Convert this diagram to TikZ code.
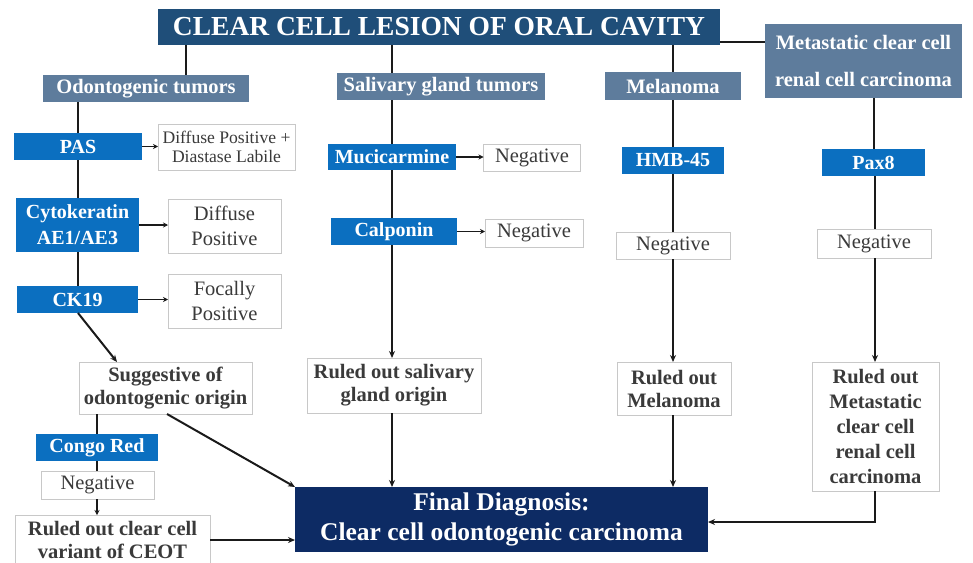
\documentclass[tikz,border=0pt]{standalone}
\usepackage{fontspec}
\setmainfont{Liberation Serif}
\usetikzlibrary{arrows.meta,calc}
\definecolor{titleblue}{HTML}{1F4E79}
\definecolor{slate}{HTML}{5E7C9C}
\definecolor{testblue}{HTML}{0B6FC0}
\definecolor{navy}{HTML}{0D2B64}
\definecolor{txtgray}{HTML}{3A3A3A}
\definecolor{bordergray}{HTML}{C8C8C8}
\definecolor{linecol}{HTML}{1A1A1A}
\tikzset{
  box/.style={inner sep=0pt, align=center, outer sep=0pt},
  titlebox/.style={box, fill=titleblue, text=white, font=\fontsize{27.5}{30}\selectfont\bfseries},
  catbox/.style={box, fill=slate, text=white, font=\fontsize{20.5}{37}\selectfont\bfseries},
  testbox/.style={box, fill=testblue, text=white, font=\fontsize{20}{26}\selectfont\bfseries},
  resbox/.style={box, draw=bordergray, line width=1pt, fill=white, text=txtgray, font=\fontsize{20.5}{25}\selectfont},
  smallres/.style={box, draw=bordergray, line width=1pt, fill=white, text=txtgray, font=\fontsize{17.6}{19}\selectfont},
  conclbox/.style={box, draw=bordergray, line width=1pt, fill=white, text=txtgray, font=\fontsize{20.5}{23}\selectfont\bfseries},
  finalbox/.style={box, fill=navy, text=white, font=\fontsize{25.5}{30}\selectfont\bfseries},
  conn/.style={draw=linecol, line width=2pt},
  arr/.style={conn, -{Stealth[length=7pt,width=6pt]}},
  sarr/.style={draw=linecol, line width=1.5pt, -{Stealth[length=5pt,width=5pt]}},
}
\begin{document}
\begin{tikzpicture}[x=1pt,y=-1pt]
\useasboundingbox[fill=white] (0,0) rectangle (973,562);
% top level
\node[titlebox, minimum width=562pt, minimum height=36pt] (title) at (439,27) {CLEAR CELL LESION OF ORAL CAVITY};
\node[catbox, minimum width=206pt, minimum height=27pt] (odont) at (146,88.5) {Odontogenic tumors};
\node[catbox, minimum width=208pt, minimum height=27pt] (saliv) at (441,86.5) {Salivary gland tumors};
\node[catbox, minimum width=136pt, minimum height=28pt] (melan) at (673,86) {Melanoma};
\node[catbox, minimum width=197pt, minimum height=74pt] (metas) at (863.5,61) {Metastatic clear cell\\renal cell carcinoma};
% odontogenic column
\node[testbox, minimum width=128pt, minimum height=27pt] (pas) at (78,146.5) {PAS};
\node[smallres, minimum width=137pt, minimum height=46pt] (pasres) at (226.5,147) {Diffuse Positive +\\Diastase Labile};
\node[testbox, minimum width=123pt, minimum height=54pt] (cyto) at (77.5,225) {Cytokeratin\\AE1/AE3};
\node[resbox, minimum width=113pt, minimum height=54pt] (cytores) at (224.5,226) {Diffuse\\Positive};
\node[testbox, minimum width=121pt, minimum height=27pt] (ck) at (77.5,299.5) {CK19};
\node[resbox, minimum width=113pt, minimum height=54pt] (ckres) at (224.5,301) {Focally\\Positive};
\node[conclbox, minimum width=173pt, minimum height=52pt] (sugg) at (165.5,388) {Suggestive of\\odontogenic origin};
\node[testbox, minimum width=122pt, minimum height=27pt] (congo) at (97,447.5) {Congo Red};
\node[resbox, minimum width=113pt, minimum height=28pt] (congores) at (97.5,485) {Negative};
\node[conclbox, minimum width=195pt, minimum height=50pt, anchor=north] (ceot) at (112.5,515) {Ruled out clear cell\\variant of CEOT};
% salivary column
\node[testbox, minimum width=128pt, minimum height=26pt] (muci) at (392,157) {Mucicarmine};
\node[resbox, minimum width=97pt, minimum height=27pt] (mucires) at (532,157.5) {Negative};
\node[testbox, minimum width=126pt, minimum height=27pt] (calp) at (394,231.5) {Calponin};
\node[resbox, minimum width=98pt, minimum height=28pt] (calpres) at (534,233) {Negative};
\node[conclbox, minimum width=174pt, minimum height=55pt] (rsal) at (394,385.5) {Ruled out salivary\\gland origin};
% melanoma column
\node[testbox, minimum width=102pt, minimum height=27pt] (hmb) at (673,160.5) {HMB-45};
\node[resbox, minimum width=114pt, minimum height=27pt] (hmbres) at (673,245.5) {Negative};
\node[conclbox, minimum width=114pt, minimum height=53pt] (rmel) at (674,388.5) {Ruled out\\Melanoma};
% metastatic column
\node[testbox, minimum width=103pt, minimum height=27pt] (pax) at (873.5,162.5) {Pax8};
\node[resbox, minimum width=114pt, minimum height=29pt] (paxres) at (874,243.5) {Negative};
\node[conclbox, minimum width=127pt, minimum height=129pt, font=\fontsize{20.5}{25}\selectfont\bfseries] (rmet) at (875.5,426.5) {Ruled out\\Metastatic\\clear cell\\renal cell\\carcinoma};
% final
\node[finalbox, minimum width=413pt, minimum height=65pt] (final) at (501.5,519.5) {Final Diagnosis:\\Clear cell odontogenic carcinoma};
% connectors: top level
\draw[conn] (title.south -| 186,0) -- (odont.north -| 186,0);
\draw[conn] (title.east |- 0,42) -- (metas.west |- 0,42);
\draw[conn] (title.south -| melan) -- (melan.north);
% odontogenic column
\draw[conn] (odont.south -| pas) -- (pas.north);
\draw[conn] (pas.south) -- (cyto.north -| pas);
\draw[conn] (cyto.south -| pas) -- (ck.north -| pas);
\draw[sarr] (pas.east) -- (pasres.west |- pas.east);
\draw[sarr] (cyto.east) -- (cytores.west |- cyto.east);
\draw[sarr] (ck.east) -- (ckres.west |- ck.east);
\draw[arr] (ck.south -| pas) -- (sugg.north -| 117,0);
\draw[arr] (sugg.south -| 167,0) -- (final.north west);
\draw[conn] (sugg.south -| congo) -- (congo.north);
\draw[conn] (congo.south) -- (congores.north -| congo);
\draw[sarr] (congores.south -| congo) -- (ceot.north -| congo);
\draw[arr] (ceot.east |- 0,540) -- (final.west |- 0,540);
% salivary column
\draw[conn] (title.south -| 392,0) -- (saliv.north -| 392,0);
\draw[conn] (saliv.south -| 392,0) -- (muci.north -| 392,0);
\draw[conn] (muci.south -| 392,0) -- (calp.north -| 392,0);
\draw[arr] (calp.south -| 392,0) -- (rsal.north -| 392,0);
\draw[arr] (rsal.south -| 392,0) -- (final.north -| 392,0);
\draw[sarr] (muci.east) -- (mucires.west |- muci.east);
\draw[sarr] (calp.east) -- (calpres.west |- calp.east);
% melanoma column
\draw[conn] (melan.south) -- (hmb.north -| melan);
\draw[conn] (hmb.south -| melan) -- (hmbres.north -| melan);
\draw[arr] (hmbres.south -| melan) -- (rmel.north -| melan);
\draw[arr] (rmel.south -| melan) -- (final.north -| melan);
% metastatic column
\draw[conn] (metas.south -| pax) -- (pax.north);
\draw[conn] (pax.south -| 875,0) -- (paxres.north -| 875,0);
\draw[arr] (paxres.south -| 875,0) -- (rmet.north -| 875,0);
\draw[arr] (rmet.south -| 875,0) |- (final.east |- 0,522);
\end{tikzpicture}
\end{document}
